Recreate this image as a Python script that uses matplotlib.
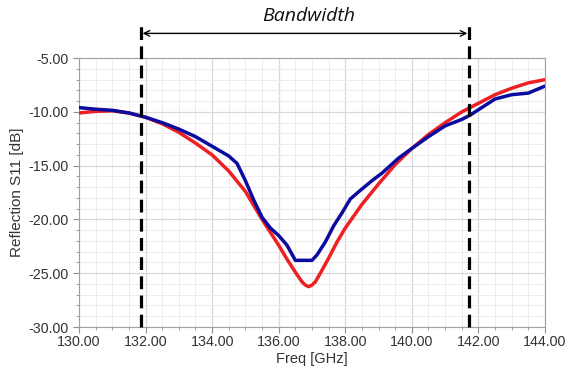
import matplotlib.pyplot as plt
from matplotlib.ticker import MultipleLocator, FormatStrFormatter

# Simulated S11 (red)
freq_sim = [130, 130.5, 131, 131.5, 132, 132.5, 133, 133.5, 134, 134.5, 135, 135.5,
            136, 136.25, 136.5, 136.7, 136.8, 136.9, 137.0, 137.1, 137.25, 137.5, 137.75, 138,
            138.5, 139, 139.5, 140, 140.5, 141, 141.5, 142, 142.5, 143, 143.5, 144]
s11_sim = [-10.1, -9.95, -9.9, -10.1, -10.5, -11.1, -11.9, -12.9, -14.0, -15.5, -17.4, -20.0,
           -22.4, -23.7, -24.9, -25.8, -26.1, -26.25, -26.1, -25.8, -25.0, -23.6, -22.1, -20.8,
           -18.6, -16.7, -14.9, -13.4, -12.1, -11.0, -10.0, -9.2, -8.4, -7.8, -7.3, -7.0]

# Measured S11 (blue)
freq_meas = [130, 130.5, 131, 131.5, 132, 132.5, 133, 133.5, 134, 134.5, 134.75, 135,
             135.25, 135.5, 135.75, 136, 136.25, 136.5, 136.75, 137, 137.15, 137.4,
             137.65, 137.9, 138.15, 138.45, 138.8, 139.1, 139.6, 140, 140.5, 141,
             141.5, 141.75, 142, 142.5, 143, 143.5, 144]
s11_meas = [-9.6, -9.75, -9.85, -10.1, -10.5, -11.0, -11.6, -12.3, -13.2, -14.1, -14.8, -16.4,
            -18.2, -19.8, -20.8, -21.5, -22.4, -23.8, -23.8, -23.8, -23.3, -22.1,
            -20.6, -19.4, -18.1, -17.3, -16.4, -15.7, -14.3, -13.4, -12.3, -11.3,
            -10.7, -10.3, -9.8, -8.8, -8.4, -8.25, -7.6]

# Bandwidth markers
bw_low = 131.86
bw_high = 141.72

plt.rcParams['font.family'] = ['Liberation Sans', 'DejaVu Sans']

fig = plt.figure(figsize=(5.7, 3.75), dpi=100)
ax = fig.add_axes([0.1386, 0.128, 0.8175, 0.717])

ax.plot(freq_sim, s11_sim, color='#ee2024', lw=2.5, zorder=3,
        solid_joinstyle='round', solid_capstyle='round')
ax.plot(freq_meas, s11_meas, color='#0b0ba0', lw=2.5, zorder=4,
        solid_joinstyle='round', solid_capstyle='round')

ax.set_xlim(130, 144)
ax.set_ylim(-30, -5)
ax.xaxis.set_major_locator(MultipleLocator(2))
ax.xaxis.set_minor_locator(MultipleLocator(0.5))
ax.yaxis.set_major_locator(MultipleLocator(5))
ax.yaxis.set_minor_locator(MultipleLocator(1))
ax.xaxis.set_major_formatter(FormatStrFormatter('%.2f'))
ax.yaxis.set_major_formatter(FormatStrFormatter('%.2f'))

ax.grid(which='major', color='#d9d9d9', lw=0.9)
ax.grid(which='minor', color='#ececec', lw=0.7)
ax.set_axisbelow(True)

for s in ax.spines.values():
    s.set_color('#a0a0a0')
ax.tick_params(which='both', colors='#909090', labelcolor='#333333', labelsize=10.3,
               top=False, right=False)
ax.tick_params(which='major', length=4)
ax.tick_params(which='minor', length=2)
ax.tick_params(axis='x', pad=2)

ax.set_xlabel('Freq [GHz]', fontsize=10.5, color='#333333', labelpad=2)
ax.set_ylabel('Reflection S11 [dB]', fontsize=11, color='#333333', labelpad=3)

# dashed bandwidth lines, extending above the plot area
for f in (bw_low, bw_high):
    ax.plot([f, f], [-30, -1.6], color='black', lw=2.3, ls=(0, (4, 2)),
            clip_on=False, zorder=5)

ax.annotate('', xy=(bw_low + 0.05, -2.7), xytext=(bw_high - 0.05, -2.7),
            arrowprops=dict(arrowstyle='<->', color='black', lw=1.0,
                            shrinkA=0, shrinkB=0), annotation_clip=False)
ax.text((bw_low + bw_high) / 2 + 0.1, -1.1, 'Bandwidth', ha='center', va='center',
        fontsize=14, style='italic', family=['Open Sans', 'DejaVu Sans'],
        color='#111111', clip_on=False)

fig.savefig('out.png', dpi=100)
